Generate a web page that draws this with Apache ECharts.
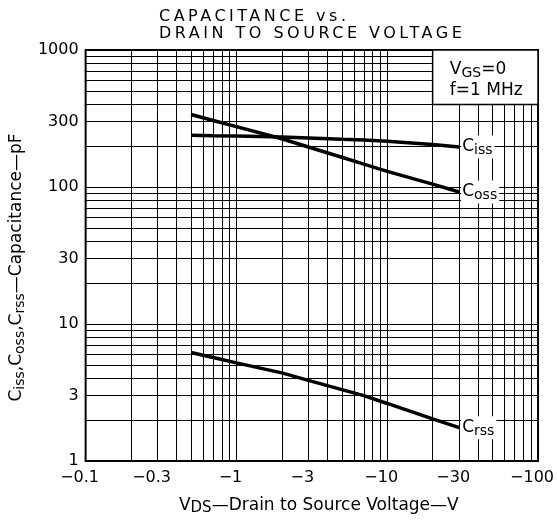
<!DOCTYPE html>
<html lang="en">
<head>
    <meta charset="UTF-8">
    <title>Capacitance vs. Drain to Source Voltage</title>
    <script src="https://cdn.jsdelivr.net/npm/echarts@6.0.0/dist/echarts.min.js"></script>
    <style>html, body {margin: 0; padding: 0; background: #fff;}</style>
</head>
<body>
<div id="chart" style="width: 557px;height: 524px;"></div>
<script>
    // |VDS| in volts (the axis is drawn as negative voltages)
    var vds  = [0.5, 0.7, 1, 2, 3, 5, 7, 10, 20, 30];
    var ciss = [239, 237, 236, 232, 228, 223, 220, 216, 204, 196];
    var coss = [338, 306, 276, 225, 196, 165, 147, 130, 105, 92];
    var crss = [6.2, 5.7, 5.2, 4.4, 3.88, 3.32, 3.0, 2.63, 2.03, 1.75];

    // log paper: a line at every 1..9 of each decade
    var xGridValues = [0.1, 0.2, 0.3, 0.4, 0.5, 0.6, 0.7, 0.8, 0.9,
                       1, 2, 3, 4, 5, 6, 7, 8, 9,
                       10, 20, 30, 40, 50, 60, 70, 80, 90, 100];
    var yGridValues = [1, 2, 3, 4, 5, 6, 7, 8, 9,
                       10, 20, 30, 40, 50, 60, 70, 80, 90,
                       100, 200, 300, 400, 500, 600, 700, 800, 900, 1000];
    var xLabelValues = [0.1, 0.3, 1, 3, 10, 30, 100];
    var yLabelValues = [1, 3, 10, 30, 100, 300, 1000];

    var FONT = 'DejaVu Sans';

    function pairs(values) {
        return vds.map(function (v, i) { return [v, values[i]]; });
    }

    // subscript style used by the curve names, the axis names and the note box
    function subRich(big, small) {
        return {
            b: {fontFamily: FONT, fontSize: big, lineHeight: big + 4, color: '#000'},
            s: {fontFamily: FONT, fontSize: small, lineHeight: small + 1, verticalAlign: 'bottom', color: '#000'}
        };
    }

    function curve(name, sub, values) {
        return {
            name: name,
            type: 'line',
            data: pairs(values),
            symbol: 'none',
            silent: true,
            lineStyle: {color: '#000', width: 3.5},
            endLabel: {
                show: true,
                distance: 2,
                formatter: '{b|C}{s|' + sub + '}',
                backgroundColor: '#fff',
                padding: [1, 2, 1, 1],
                rich: subRich(17, 14)
            }
        };
    }

    var myChart = echarts.init(document.getElementById('chart'));
    var option = {
        animation: false,
        backgroundColor: '#fff',
        title: {
            text: 'CAPACITANCE vs.\nDRAIN TO SOURCE VOLTAGE',
            left: 159,
            top: 8,
            padding: 0,
            zlevel: 1,
            textStyle: {
                fontFamily: FONT,
                fontSize: 16,
                fontWeight: 'normal',
                lineHeight: 17,
                color: '#000'
            }
        },
        grid: {
            left: 85,
            right: 16,
            top: 50,
            bottom: 63,
            show: true,
            backgroundColor: '#fff',
            borderColor: '#000',
            borderWidth: 2
        },
        xAxis: {
            type: 'log',
            logBase: 10,
            min: 0.1,
            max: 100,
            name: '{b|V}{s|DS}—Drain to Source Voltage—V',
            nameLocation: 'middle',
            nameGap: 34,
            nameTextStyle: {
                fontFamily: FONT,
                fontSize: 17,
                color: '#000',
                padding: [0, 0, 0, 14],
                rich: subRich(17, 15)
            },
            axisLine: {show: false},
            axisTick: {show: false, customValues: xGridValues},
            splitLine: {show: true, lineStyle: {color: '#000', width: 1}},
            axisLabel: {
                customValues: xLabelValues,
                margin: 9,
                formatter: function (v) {
                    return '{m|\u2212}{n|' + (+v.toPrecision(3)) + '}';
                },
                rich: {
                    m: {fontFamily: FONT, fontSize: 16, color: '#000'},
                    n: {fontFamily: FONT, fontSize: 16, color: '#000', padding: [0, 12, 0, 0]}
                }
            }
        },
        yAxis: {
            type: 'log',
            logBase: 10,
            min: 1,
            max: 1000,
            name: '{b|C}{s|iss},{b|C}{s|oss},{b|C}{s|rss}—Capacitance—pF',
            nameLocation: 'middle',
            nameRotate: 90,
            nameGap: 50,
            nameTextStyle: {
                fontFamily: FONT,
                fontSize: 17,
                color: '#000',
                padding: [0, 24, 0, 0],
                rich: subRich(17, 14)
            },
            axisLine: {show: false},
            axisTick: {show: false, customValues: yGridValues},
            splitLine: {show: true, lineStyle: {color: '#000', width: 1}},
            axisLabel: {
                customValues: yLabelValues,
                margin: 7,
                fontFamily: FONT,
                fontSize: 16,
                color: '#000',
                formatter: function (v) { return '' + (+v.toPrecision(3)); }
            }
        },
        series: [
            curve('Ciss', 'iss', ciss),
            curve('Coss', 'oss', coss),
            curve('Crss', 'rss', crss),
            {
                // test-condition note, boxed over the paper
                name: 'conditions',
                type: 'line',
                data: [],
                silent: true,
                markArea: {
                    silent: true,
                    itemStyle: {color: '#fff', borderColor: '#000', borderWidth: 1.5},
                    label: {
                        show: true,
                        position: 'insideTopLeft',
                        distance: 0,
                        padding: [10, 0, 0, 18],
                        formatter: '{b|V}{s|GS}{b|=0}\n{b|f=1 MHz}',
                        rich: subRich(17, 14)
                    },
                    data: [[{xAxis: 20, yAxis: 400}, {xAxis: 100, yAxis: 1000}]]
                }
            }
        ]
    };
    myChart.setOption(option);

    // the title sits on its own canvas layer; give it the wide tracking of the printed sheet
    try {
        var painter = myChart.getZr().painter;
        var layer = painter.getLayer(1);
        layer.ctx.letterSpacing = '3.5px';
        painter.refresh(true);
    } catch (e) {}
</script>
</body>
</html>
